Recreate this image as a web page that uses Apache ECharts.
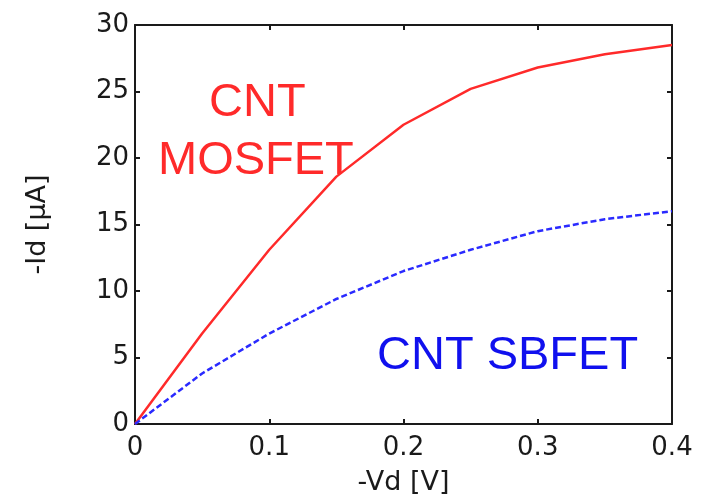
<!DOCTYPE html>
<html>
<head>
<meta charset="utf-8">
<script src="https://cdn.jsdelivr.net/npm/echarts@6/dist/echarts.min.js"></script>
<style>
  html, body { margin: 0; padding: 0; background: #fff; }
  #chart { width: 707px; height: 501px; }
</style>
</head>
<body>
<div id="chart"></div>
<script>
// Drain voltage sweep (-Vd, volts)
const vd = [0, 0.05, 0.1, 0.15, 0.2, 0.25, 0.3, 0.35, 0.4];
// Drain current (-Id, microamps)
const idMosfet = [0, 6.8, 13.1, 18.6, 22.5, 25.2, 26.8, 27.8, 28.5];
const idSbfet  = [0, 3.8, 6.8, 9.4, 11.5, 13.1, 14.5, 15.4, 16.0];
const xTicks = [0, 0.1, 0.2, 0.3, 0.4];
const yTicks = [0, 5, 10, 15, 20, 25, 30];

const pairs = (xs, ys) => xs.map((x, i) => [x, ys[i]]);

const axisColor = '#1a1a1a';
const axisFont = '"DejaVu Sans", sans-serif';
const noteFont = '"Liberation Sans", Arial, sans-serif';

const baseX = {
  type: 'value', min: 0, max: 0.4, interval: 0.1,
  axisLine: { show: true, onZero: false, lineStyle: { color: axisColor, width: 2 } },
  axisTick: { show: true, inside: true, length: 5, lineStyle: { color: axisColor, width: 2 } },
  splitLine: { show: false }
};
const baseY = {
  type: 'value', min: 0, max: 30, interval: 5,
  axisLine: { show: true, onZero: false, lineStyle: { color: axisColor, width: 2 } },
  axisTick: { show: true, inside: true, length: 5, lineStyle: { color: axisColor, width: 2 } },
  splitLine: { show: false }
};

const chart = echarts.init(document.getElementById('chart'));
chart.setOption({
  backgroundColor: '#fff',
  animation: false,
  grid: { left: 135, right: 35, top: 25, bottom: 72, containLabel: false },
  xAxis: [
    Object.assign({}, baseX, {
      position: 'bottom',
      name: '-Vd [V]', nameLocation: 'middle', nameGap: 45,
      nameTextStyle: { fontFamily: axisFont, fontSize: 27, color: '#1a1a1a' },
      axisLabel: {
        fontFamily: axisFont, fontSize: 26, color: '#1a1a1a', margin: 11,
        formatter: v => xTicks.includes(+v.toFixed(2)) ? String(+v.toFixed(2)) : ''
      }
    }),
    Object.assign({}, baseX, { position: 'top', axisLabel: { show: false } })
  ],
  yAxis: [
    Object.assign({}, baseY, {
      position: 'left',
      name: '-Id [\u03bcA]', nameLocation: 'middle', nameGap: 84, nameRotate: 90,
      nameTextStyle: { fontFamily: axisFont, fontSize: 27, color: '#1a1a1a' },
      axisLabel: {
        fontFamily: axisFont, fontSize: 26, color: '#1a1a1a', margin: 6,
        formatter: v => yTicks.includes(v) ? String(v) : ''
      }
    }),
    Object.assign({}, baseY, { position: 'right', axisLabel: { show: false } })
  ],
  graphic: [
    { type: 'text', left: 209, top: 80,
      style: { text: 'CNT', fill: '#ff2a2a', font: '47px ' + noteFont } },
    { type: 'text', left: 158, top: 138,
      style: { text: 'MOSFET', fill: '#ff2a2a', font: '47px ' + noteFont } },
    { type: 'text', left: 377, top: 333,
      style: { text: 'CNT SBFET', fill: '#1010ee', font: '47px ' + noteFont } }
  ],
  series: [
    {
      name: 'CNT MOSFET', type: 'line', data: pairs(vd, idMosfet),
      showSymbol: false, smooth: false, z: 3,
      lineStyle: { color: '#ff2a2a', width: 2.5 }
    },
    {
      name: 'CNT SBFET', type: 'line', data: pairs(vd, idSbfet),
      showSymbol: false, smooth: false, z: 3,
      lineStyle: { color: '#2a2aff', width: 2.5, type: [6, 3] }
    }
  ]
});
</script>
</body>
</html>
